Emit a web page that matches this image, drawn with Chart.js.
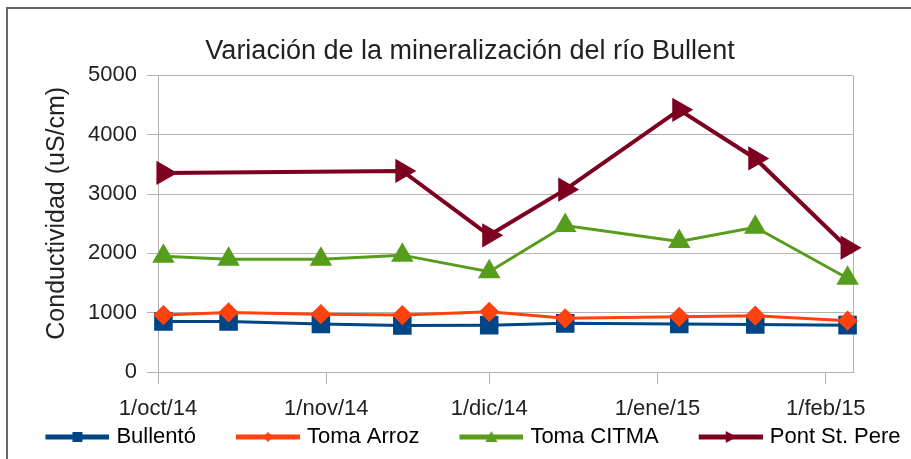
<!DOCTYPE html>
<html>
<head>
<meta charset="utf-8">
<script src="https://cdn.jsdelivr.net/npm/chart.js@4.4.1/dist/chart.umd.min.js"></script>
<style>
  html, body { margin: 0; padding: 0; background: #fff; }
  #frame { position: absolute; left: 6px; top: 7px; width: 1000px; height: 1000px;
           border-left: 2px solid #666; border-top: 2px solid #666; }
  #chart { position: absolute; left: 0; top: 0; }
</style>
</head>
<body>
<div id="frame"></div>
<canvas id="chart" width="911" height="459"></canvas>
<script>
// sample dates, as days counted from 1/oct/14
const sampleDays = [1, 13, 30, 45, 61, 75, 96, 110, 127];
const pontDays = [1, 45, 61, 75, 96, 110, 127];

// conductividad (uS/cm)
const bullento = [850, 850, 810, 785, 790, 820, 810, 800, 790];
const tomaArroz = [960, 1005, 975, 960, 1015, 905, 930, 950, 865];
const tomaCitma = [1950, 1900, 1900, 1970, 1690, 2470, 2200, 2440, 1580];
const pontStPere = [3355, 3390, 2305, 3075, 4420, 3600, 2095];

const tickDays = [0, 31, 61, 92, 123];
const tickLabels = ['1/oct/14', '1/nov/14', '1/dic/14', '1/ene/15', '1/feb/15'];

const FONT = "'Liberation Sans', Arial, sans-serif";
const TEXT = '#222';
const GRID = '#b3b3b3';

const toPoints = (days, vals) => days.map((d, i) => ({ x: d, y: vals[i] }));

// little line + marker pictures for the legend
function legendIcon(color, shape) {
  const c = document.createElement('canvas');
  c.width = 104; c.height = 16;
  const g = c.getContext('2d');
  g.strokeStyle = color; g.fillStyle = color; g.lineWidth = 5;
  g.beginPath(); g.moveTo(40, 8); g.lineTo(104, 8); g.stroke();
  const cx = 72, cy = 8;
  g.beginPath();
  if (shape === 'square') {
    g.rect(cx - 5, cy - 5, 10, 10);
  } else if (shape === 'diamond') {
    g.moveTo(cx, cy - 5); g.lineTo(cx + 5, cy); g.lineTo(cx, cy + 5); g.lineTo(cx - 5, cy);
  } else if (shape === 'up') {
    g.moveTo(cx, cy - 6); g.lineTo(cx + 6, cy + 5); g.lineTo(cx - 6, cy + 5);
  } else {
    g.moveTo(cx + 6, cy); g.lineTo(cx - 5, cy - 6); g.lineTo(cx - 5, cy + 6);
  }
  g.closePath(); g.fill();
  return c;
}

const icons = [
  legendIcon('#004586', 'square'),
  legendIcon('#ff420e', 'diamond'),
  legendIcon('#579d1c', 'up'),
  legendIcon('#7e0021', 'right')
];

const plotFrame = {
  id: 'plotFrame',
  beforeDatasetsDraw(chart) {
    const { ctx, chartArea: a } = chart;
    ctx.save();
    ctx.strokeStyle = GRID;
    ctx.lineWidth = 1;
    ctx.beginPath();
    ctx.moveTo(a.right + 0.5, a.top);
    ctx.lineTo(a.right + 0.5, a.bottom);
    ctx.stroke();
    ctx.restore();
  }
};

new Chart(document.getElementById('chart'), {
  type: 'line',
  data: {
    datasets: [
      {
        label: 'Bullentó', data: toPoints(sampleDays, bullento), order: 1,
        borderColor: '#004586', backgroundColor: '#004586', borderWidth: 3,
        pointStyle: 'rect', pointRadius: 11, clip: false
      },
      {
        label: 'Toma Arroz', data: toPoints(sampleDays, tomaArroz), order: 0,
        borderColor: '#ff420e', backgroundColor: '#ff420e', borderWidth: 3,
        pointStyle: 'rectRot', pointRadius: 8, clip: false
      },
      {
        label: 'Toma CITMA', data: toPoints(sampleDays, tomaCitma), order: 2,
        borderColor: '#579d1c', backgroundColor: '#579d1c', borderWidth: 3,
        pointStyle: 'triangle', pointRadius: 10, clip: false
      },
      {
        label: 'Pont St. Pere', data: toPoints(pontDays, pontStPere), order: 3,
        borderColor: '#7e0021', backgroundColor: '#7e0021', borderWidth: 4,
        pointStyle: 'triangle', pointRotation: 90, pointRadius: 10, clip: false
      }
    ]
  },
  options: {
    responsive: false,
    animation: false,
    devicePixelRatio: 1,
    layout: { padding: { top: 10, left: 0, right: 1, bottom: 1 } },
    elements: { line: { tension: 0 }, point: { borderWidth: 1 } },
    scales: {
      x: {
        type: 'linear', min: 0, max: 128,
        afterBuildTicks: s => { s.ticks = tickDays.map(v => ({ value: v })); },
        afterFit: s => { s.height = 50; },
        ticks: {
          callback: v => tickLabels[tickDays.indexOf(v)],
          font: { family: FONT, size: 22 }, color: TEXT,
          padding: 12, maxRotation: 0, autoSkip: false
        },
        grid: { drawOnChartArea: false, drawTicks: true, tickLength: 12, color: GRID },
        border: { color: GRID }
      },
      y: {
        min: 0, max: 5000,
        afterFit: s => { s.width = 158; },
        ticks: {
          stepSize: 1000, callback: v => String(v),
          font: { family: FONT, size: 22 }, color: TEXT, padding: 10
        },
        grid: { color: GRID, tickLength: 11 },
        border: { color: GRID },
        title: {
          display: true, text: '   Conductividad (uS/cm)',
          font: { family: FONT, size: 25 }, color: TEXT, padding: { top: 42, bottom: 0 }
        }
      },
      yR: {
        position: 'right', display: true, min: 0, max: 5000,
        afterFit: s => { s.width = 57; },
        ticks: { display: false },
        grid: { display: false },
        border: { display: false }
      }
    },
    plugins: {
      title: {
        display: true, text: '    Variación de la mineralización del río Bullent',
        font: { family: FONT, size: 27, weight: 'normal' }, color: TEXT,
        padding: { top: 25, bottom: 8 }
      },
      legend: {
        position: 'bottom',
        labels: {
          usePointStyle: true, pointStyleWidth: 96, padding: 4,
          font: { family: FONT, size: 22 }, color: TEXT,
          generateLabels: chart => chart.data.datasets.map((ds, i) => ({
            text: ds.label, pointStyle: icons[i],
            fillStyle: ds.borderColor, strokeStyle: ds.borderColor,
            lineWidth: 0, hidden: false, datasetIndex: i
          }))
        }
      },
      tooltip: { enabled: false }
    }
  },
  plugins: [plotFrame]
});
</script>
</body>
</html>
